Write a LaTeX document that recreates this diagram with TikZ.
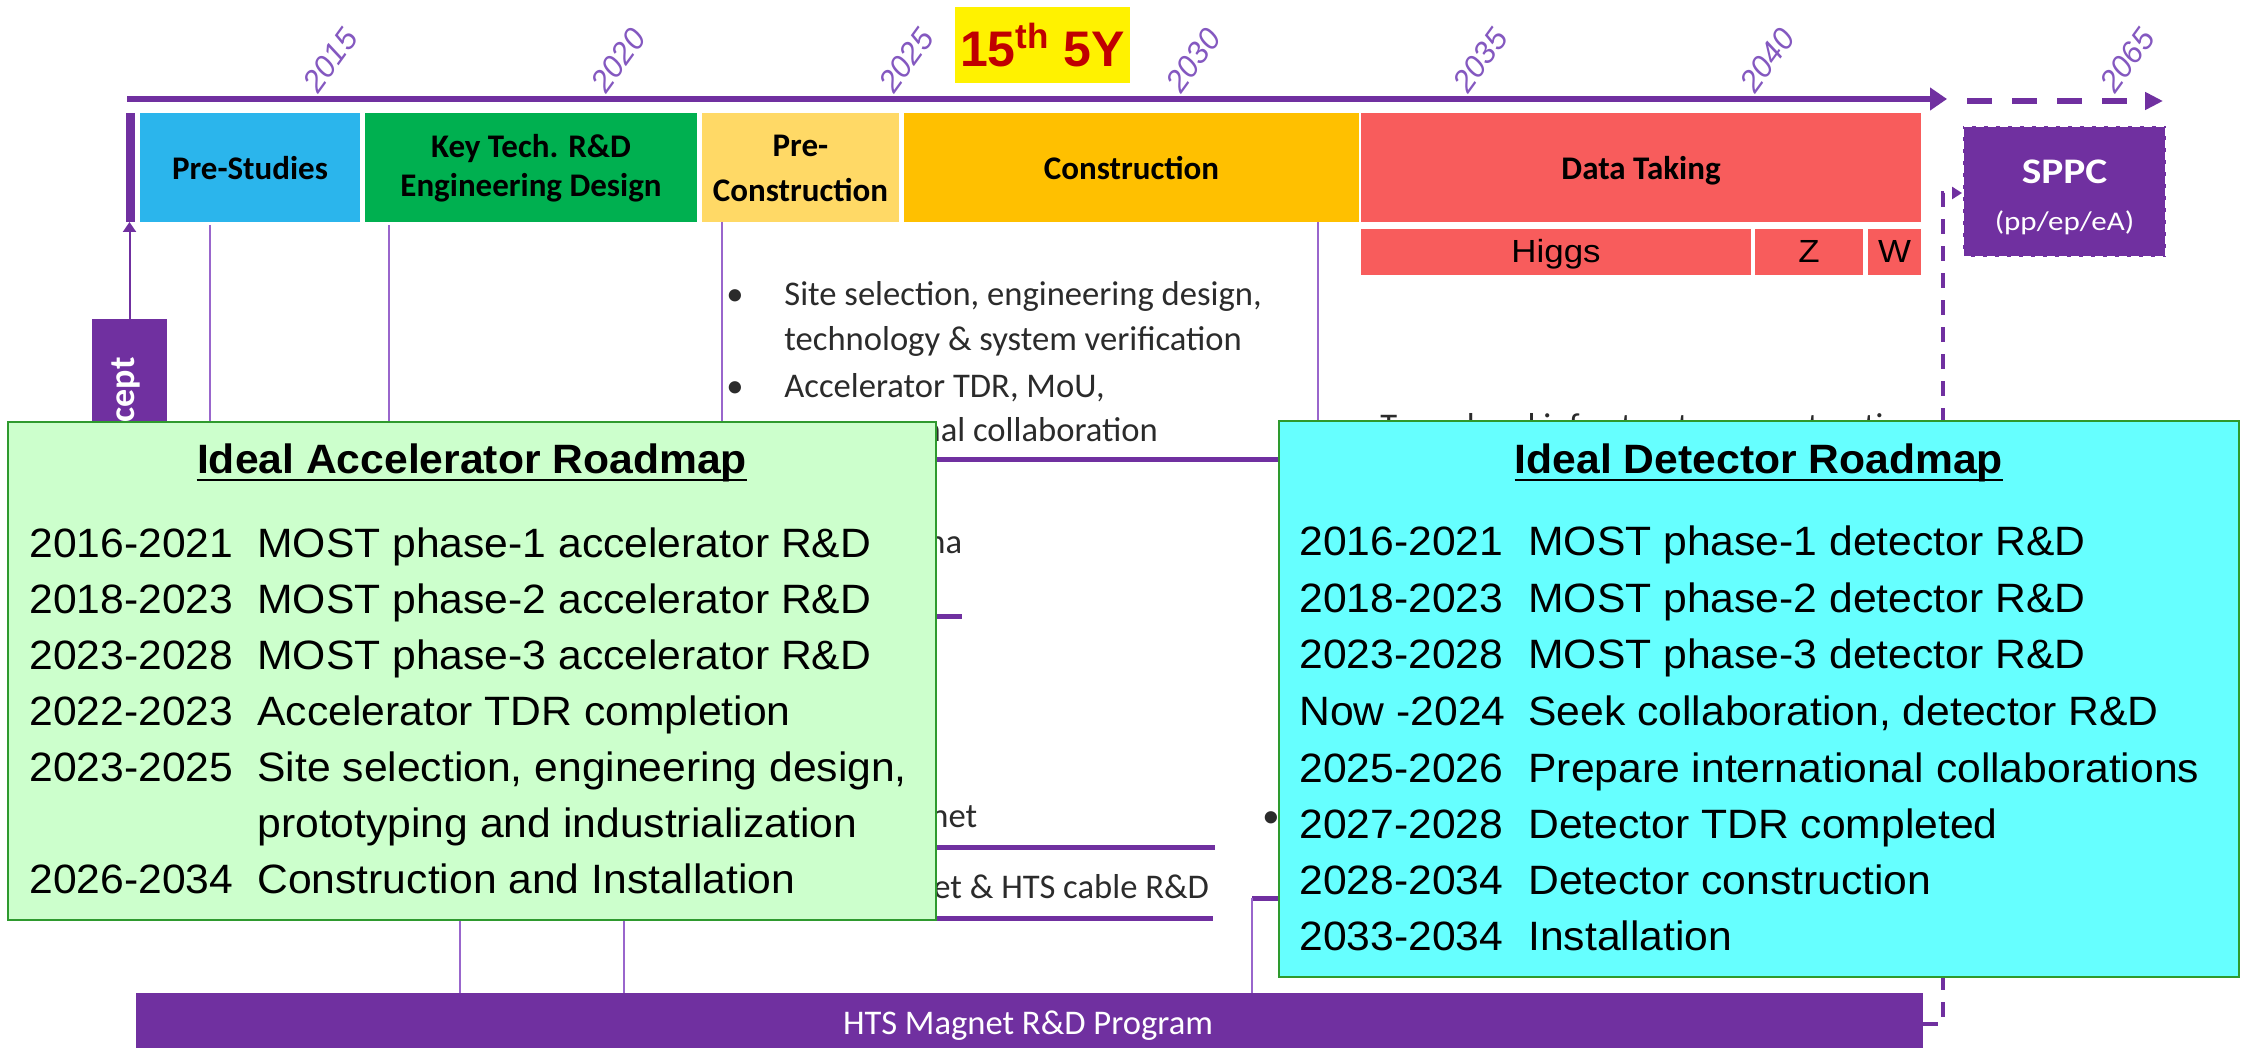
\documentclass[tikz,border=0pt]{standalone}
\usepackage{fontspec}
\usetikzlibrary{arrows.meta}
\setmainfont{Liberation Sans}
\newfontfamily\bgfont{Carlito}
\newfontfamily\bgarial[FakeStretch=1.09]{Liberation Sans}
\newfontfamily\rmbody[FakeStretch=1.04]{Liberation Sans}
\newfontfamily\rmhead[FakeStretch=1.04]{Liberation Sans}
\newfontfamily\plainarial{Liberation Sans}
\newfontfamily\sppcfont[FakeStretch=1.15]{Carlito}
\newfontfamily\capfont{Carlito}

\definecolor{vio}{HTML}{7030A0}
\definecolor{vlight}{HTML}{9966CC}
\definecolor{yrcol}{HTML}{8458C0}
\definecolor{cblue}{HTML}{2BB5EC}
\definecolor{cgreen}{HTML}{00B050}
\definecolor{cpale}{HTML}{FFD966}
\definecolor{corange}{HTML}{FFC000}
\definecolor{cred}{HTML}{F85C5C}
\definecolor{mint}{HTML}{CCFFCC}
\definecolor{aqua}{HTML}{66FFFF}
\definecolor{frame}{HTML}{2E9A2E}
\definecolor{darkred}{HTML}{C00000}
\definecolor{ink}{HTML}{2B2B2B}

\tikzset{
  pbox/.style={inner sep=0pt, outer sep=0pt, minimum height=54.5pt},
  plabel/.style={anchor=base, inner sep=0pt, font=\bgfont\bfseries\fontsize{16.5}{18}\selectfont, text=black},
  zbox/.style={inner sep=0pt, outer sep=0pt, minimum height=23pt, fill=cred,
    text height=11.5pt, text depth=0.5pt, font=\bgarial\fontsize{16}{16}\selectfont, text=black},
  yearlbl/.style={anchor=south west, rotate=54, inner sep=0pt,
    font=\plainarial\itshape\fontsize{15.5}{15.5}\selectfont, text=yrcol},
  vline/.style={draw=vlight, line width=1pt},
  thickbar/.style={draw=vio, line width=2.5pt},
  bgtxt/.style={anchor=base west, inner sep=0pt, font=\bgfont\fontsize{17.3}{17.3}\selectfont, text=ink},
  rmbox/.style={draw=frame, line width=1.2pt, inner sep=0pt, outer sep=0pt},
  rmtitle/.style={anchor=base, inner sep=0pt, font=\rmhead\bfseries\fontsize{20.5}{20.5}\selectfont, text=black},
  rmline/.style={anchor=base west, inner sep=0pt, font=\rmbody\fontsize{20.5}{20.5}\selectfont, text=black},
}

\begin{document}
\begin{tikzpicture}[x=0.5pt,y=-0.5pt]
\useasboundingbox (0,0) rectangle (2246,1048);
\fill[white] (0,0) rectangle (2246,1048);

% ---- time axis with year marks ----
\foreach \yr/\xx in {2015/319,2020/607,2025/895,2030/1182,2035/1469,2040/1756,2065/2116}
  \node[yearlbl] (yr\yr) at (\xx,95) {\yr};
\coordinate (ax0) at (127,99);
\coordinate (ax1) at (1947,99);
\coordinate (ax2) at (1967,101);
\coordinate (ax3) at (2163,101);
\draw[vio, line width=3pt, -{Triangle[length=8.5pt,width=11pt]}] (ax0) -- (ax1);
\draw[vio, line width=3pt, dash pattern=on 12.5pt off 10pt, -{Triangle[length=9pt,width=8.5pt]}] (ax2) -- (ax3);

% ---- five-year plan flag ----
\node[fill=yellow, inner sep=0pt, minimum width=87.5pt, minimum height=38pt,
      font=\plainarial\bfseries\fontsize{25}{25}\selectfont, text=darkred] (fyp) at (1042.5,45) {15\textsuperscript{th} 5Y};

% ---- project phases ----
\node[pbox, fill=vio, minimum width=4.5pt] (bar) at (130.5,167.5) {};
\node[pbox, fill=cblue, minimum width=110pt] (pre) at (250,167.5) {};
\node[pbox, fill=cgreen, minimum width=166pt] (key) at (531,167.5) {};
\node[pbox, fill=cpale, minimum width=98.5pt] (precon) at (800.5,167.5) {};
\node[pbox, fill=corange, minimum width=227.5pt] (con) at (1131.5,167.5) {};
\node[pbox, fill=cred, minimum width=280pt] (data) at (1641,167.5) {};
\node[plabel] (pre-l) at (250,180) {Pre-Studies};
\node[plabel] (key-l1) at (531,158) {Key Tech. R\&D};
\node[plabel] (key-l2) at (531,197) {Engineering Design};
\node[plabel] (precon-l1) at (800.5,157) {Pre-};
\node[plabel] (precon-l2) at (800.5,202) {Construction};
\node[plabel] (con-l) at (1131.5,180) {Construction};
\node[plabel] (data-l) at (1641,180) {Data Taking};

\node[zbox, minimum width=195pt] (higgs) at (1556,252) {Higgs};
\node[zbox, minimum width=54pt] (zrun) at (1809,252) {Z};
\node[zbox, minimum width=26.5pt] (wrun) at (1894.5,252) {W};

% ---- SPPC ----
\node[fill=vio, draw=white, line width=1pt, dash pattern=on 4pt off 2pt,
      inner sep=0pt, minimum width=101.5pt, minimum height=65.5pt] (sppc) at (2064.5,191.5) {};
\node[anchor=base, inner sep=0pt, text=white, font=\sppcfont\bfseries\fontsize{18}{18}\selectfont] (sppc-a) at (2064.5,184) {SPPC};
\node[anchor=base, inner sep=0pt, text=white, font=\sppcfont\fontsize{13.5}{13.5}\selectfont] (sppc-b) at (2064.5,230) {(pp/ep/eA)};

% ---- concept box ----
\node[fill=vio, inner sep=0pt, minimum width=37.5pt, minimum height=120.5pt] (concept) at (129.5,439.5) {};
\node[rotate=90, anchor=base east, inner sep=0pt, text=white,
      font=\capfont\bfseries\fontsize{18}{18}\selectfont] (concept-l) at (134,357) {Concept};
\draw[vio, line width=1pt, -{Triangle[length=5pt,width=6.5pt]}] (concept.north) -- (concept.north |- bar.south);

% ---- HTS programme bar ----
\node[fill=vio, inner sep=0pt, minimum width=893.5pt, minimum height=27.5pt] (hts) at (1029.5,1020.5) {};
\node[anchor=base, inner sep=0pt, text=white, font=\bgfont\fontsize{17.3}{17.3}\selectfont] (hts-l) at (1028,1034) {HTS Magnet R\&D Program};

% ---- drop lines and brackets ----
\coordinate (l1) at (210,520);
\coordinate (l2) at (389,520);
\draw[vline] ([yshift=-1.5pt]pre.south -| l1) -- (l1);
\draw[vline] ([yshift=-1.5pt]key.south -| l2) -- (l2);
\coordinate (b1l) at (722,459);
\coordinate (b1r) at (1318,459);
\draw[vline] (precon.south -| b1l) -- (b1l);
\draw[vline] (con.south -| b1r) -- (b1r);
\draw[thickbar] (b1l) -- (b1r);
\coordinate (s1a) at (860,616);
\coordinate (s1b) at (962,616);
\draw[thickbar] (s1a) -- (s1b);
\coordinate (b2l) at (460,847);
\coordinate (b2r) at (1215,847);
\draw[thickbar] (b2l) -- (b2r);
\draw[vline] (b2l) -- (b2l |- hts.north);
\coordinate (b3l) at (624,918);
\coordinate (b3r) at (1213,918);
\draw[thickbar] (b3l) -- (b3r);
\draw[vline] (b3l) -- (b3l |- hts.north);
\coordinate (b4l) at (1252,898);
\coordinate (b4r) at (1300,898);
\draw[thickbar] (b4l) -- (b4r);
\draw[vline] (b4l) -- (b4l |- hts.north);

% ---- notes ----
\node[bgtxt] (n1b) at (726,305) {•};
\node[bgtxt] (n1) at (784,305) {Site selection, engineering design,};
\node[bgtxt] (n2) at (784,350) {technology \& system verification};
\node[bgtxt] (n3b) at (726,397) {•};
\node[bgtxt] (n3) at (784,397) {Accelerator TDR, MoU,};
\begin{scope}
  \clip (936,400) rectangle (1300,470);
  \node[bgtxt] (n4) at (784,441) {international collaboration};
\end{scope}
\node[bgtxt] (n5) at (927,553) {na};
\node[bgtxt] (n6) at (930,827) {net};
\node[bgtxt] (n7) at (933,898) {et \& HTS cable R\&D};
\node[bgtxt] (n8b) at (1262,827) {•};
\node[bgtxt] (n9) at (1380,437) {Tunnel and infrastructure construction};

% ---- dashed link to SPPC ----
\coordinate (dv1) at (1943,1024);
\coordinate (dv2) at (1943,193);
\draw[vio, line width=2pt, dash pattern=on 7.5pt off 6pt, -{Triangle[length=5pt,width=6pt]}]
  (hts.east |- dv1) -- (dv1) -- (dv2) -- (dv2 -| sppc.west);

% ---- accelerator roadmap ----
\node[rmbox, fill=mint, minimum width=464pt, minimum height=249pt] (acc) at (472,671) {};
\node[rmtitle] (acc-t) at (472,473) {Ideal Accelerator Roadmap};
\draw[line width=1.2pt] ([yshift=-3.5pt]acc-t.base west) -- ([yshift=-3.5pt]acc-t.base east);
\foreach \n/\yy/\yr/\txt in {1/557/2016-2021/{MOST phase-1 accelerator R\&D},
                              2/613/2018-2023/{MOST phase-2 accelerator R\&D},
                              3/669/2023-2028/{MOST phase-3 accelerator R\&D},
                              4/725/2022-2023/{Accelerator TDR completion},
                              5/781/2023-2025/{Site selection, engineering design,},
                              7/893/2026-2034/{Construction and Installation}}{
  \node[rmline] (accy\n) at (29,\yy) {\yr};
  \node[rmline] (accd\n) at (257,\yy) {\txt};
}
\node[rmline] (accd6) at (257,837) {prototyping and industrialization};

% ---- detector roadmap ----
\node[rmbox, fill=aqua, minimum width=480pt, minimum height=278pt] (det) at (1759,699) {};
\node[rmtitle] (det-t) at (1759,473) {Ideal Detector Roadmap};
\draw[line width=1.2pt] ([yshift=-3.5pt]det-t.base west) -- ([yshift=-3.5pt]det-t.base east);
\foreach \n/\yy/\yr/\txt in {1/555/2016-2021/{MOST phase-1 detector R\&D},
                              2/612/2018-2023/{MOST phase-2 detector R\&D},
                              3/668/2023-2028/{MOST phase-3 detector R\&D},
                              4/725/{Now -2024}/{Seek collaboration, detector R\&D},
                              5/782/2025-2026/{Prepare international collaborations},
                              6/838/2027-2028/{Detector TDR completed},
                              7/894/2028-2034/{Detector construction},
                              8/950/2033-2034/{Installation}}{
  \node[rmline] (dety\n) at (1299,\yy) {\yr};
  \node[rmline] (detd\n) at (1528,\yy) {\txt};
}
\end{tikzpicture}
\end{document}
